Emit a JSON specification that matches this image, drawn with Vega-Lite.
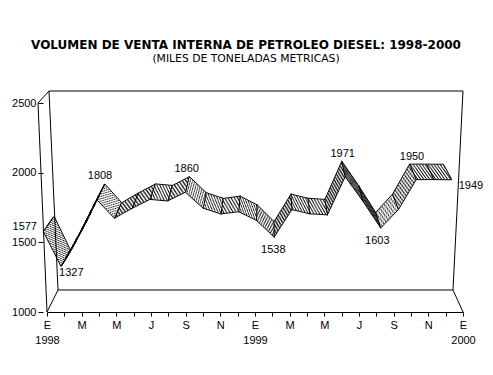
{
"$schema":"https://vega.github.io/schema/vega-lite/v6.json",
"width":416,"height":209,
"autosize":"none",
"padding":{"left":47,"top":103,"right":30,"bottom":63},
"background":"white",
"config":{"view":{"stroke":null},"numberFormat":"d","axis":{"grid":false},
 "axisY":{"tickCount":3,"domain":false,"ticks":true,"tickColor":"black","tickSize":5,"offset":4,"labelFont":"Liberation Sans","labelFontSize":11,"labelColor":"black","labelPadding":2}},
"title":{"text":"VOLUMEN DE VENTA INTERNA DE PETROLEO DIESEL: 1998-2000","subtitle":"(MILES DE TONELADAS METRICAS)","anchor":"middle","frame":"group","dx":-9,"offset":26,"font":"DejaVu Sans","fontSize":12,"fontWeight":"bold","color":"black","subtitleFont":"DejaVu Sans","subtitleFontSize":10.8,"subtitleColor":"black","subtitlePadding":1},
"data":{"values":[
{"m":0,"v":1577},{"m":1,"v":1327},{"m":2,"v":1555},{"m":3,"v":1808},{"m":4,"v":1673},{"m":5,"v":1744},
{"m":6,"v":1808},{"m":7,"v":1797},{"m":8,"v":1860},{"m":9,"v":1745},{"m":10,"v":1704},{"m":11,"v":1720},
{"m":12,"v":1658},{"m":13,"v":1538},{"m":14,"v":1735},{"m":15,"v":1705},{"m":16,"v":1697},{"m":17,"v":1971},
{"m":18,"v":1795},{"m":19,"v":1603},{"m":20,"v":1735},{"m":21,"v":1950},{"m":22,"v":1950},{"m":23,"v":1949}
]},
"resolve":{"scale":{"x":"independent"}},
"layer":[
{"data":{"values":[{"k":1}]},"mark":{"type":"rule","stroke":"black","strokeWidth":1},"encoding":{"x":{"datum":-0.519,"type":"quantitative","scale":{"domain":[0,24],"nice":false,"zero":false},"axis":null},"y":{"datum":2500,"type":"quantitative","title":null,"scale":{"domain":[1000,2500],"nice":false,"zero":false}},"x2":{"datum":0},"y2":{"datum":1000}}},
{"data":{"values":[{"k":1}]},"mark":{"type":"rule","stroke":"black","strokeWidth":1},"encoding":{"x":{"datum":-0.519,"type":"quantitative","scale":{"domain":[0,24],"nice":false,"zero":false},"axis":null},"y":{"datum":2500,"type":"quantitative","title":null},"x2":{"datum":0.115},"y2":{"datum":2586}}},
{"data":{"values":[{"k":1}]},"mark":{"type":"rule","stroke":"black","strokeWidth":1},"encoding":{"x":{"datum":0.115,"type":"quantitative","scale":{"domain":[0,24],"nice":false,"zero":false},"axis":null},"y":{"datum":2586,"type":"quantitative","title":null},"x2":{"datum":0.635},"y2":{"datum":1158}}},
{"data":{"values":[{"k":1}]},"mark":{"type":"rule","stroke":"black","strokeWidth":1},"encoding":{"x":{"datum":0.115,"type":"quantitative","scale":{"domain":[0,24],"nice":false,"zero":false},"axis":null},"y":{"datum":2586,"type":"quantitative","title":null},"x2":{"datum":24},"y2":{"datum":2586}}},
{"data":{"values":[{"k":1}]},"mark":{"type":"rule","stroke":"black","strokeWidth":1},"encoding":{"x":{"datum":24,"type":"quantitative","scale":{"domain":[0,24],"nice":false,"zero":false},"axis":null},"y":{"datum":2586,"type":"quantitative","title":null},"x2":{"datum":23.423},"y2":{"datum":1158}}},
{"data":{"values":[{"k":1}]},"mark":{"type":"rule","stroke":"black","strokeWidth":1},"encoding":{"x":{"datum":0.635,"type":"quantitative","scale":{"domain":[0,24],"nice":false,"zero":false},"axis":null},"y":{"datum":1158,"type":"quantitative","title":null},"x2":{"datum":23.423},"y2":{"datum":1158}}},
{"data":{"values":[{"k":1}]},"mark":{"type":"rule","stroke":"black","strokeWidth":1},"encoding":{"x":{"datum":0,"type":"quantitative","scale":{"domain":[0,24],"nice":false,"zero":false},"axis":null},"y":{"datum":1000,"type":"quantitative","title":null},"x2":{"datum":0.635},"y2":{"datum":1158}}},
{"data":{"values":[{"k":1}]},"mark":{"type":"rule","stroke":"black","strokeWidth":1},"encoding":{"x":{"datum":24,"type":"quantitative","scale":{"domain":[0,24],"nice":false,"zero":false},"axis":null},"y":{"datum":1000,"type":"quantitative","title":null},"x2":{"datum":23.423},"y2":{"datum":1158}}},

{"mark":{"type":"line","stroke":"black","strokeWidth":1,"strokeDash":[1.2,1.8],"strokeDashOffset":1.125,"yOffset":-1.033},"encoding":{"x":{"field":"m","type":"quantitative","scale":{"domain":[0.1687,23.6678],"nice":false,"zero":false},"axis":null},"y":{"field":"v","type":"quantitative","title":null}}},
{"mark":{"type":"line","stroke":"black","strokeWidth":1,"strokeDash":[1.2,1.8],"strokeDashOffset":2.25,"yOffset":-2.067},"encoding":{"x":{"field":"m","type":"quantitative","scale":{"domain":[0.1288,23.7015],"nice":false,"zero":false},"axis":null},"y":{"field":"v","type":"quantitative","title":null}}},
{"mark":{"type":"line","stroke":"black","strokeWidth":1,"strokeDash":[1.2,1.8],"strokeDashOffset":0.375,"yOffset":-3.1},"encoding":{"x":{"field":"m","type":"quantitative","scale":{"domain":[0.0887,23.7353],"nice":false,"zero":false},"axis":null},"y":{"field":"v","type":"quantitative","title":null}}},
{"mark":{"type":"line","stroke":"black","strokeWidth":1,"strokeDash":[1.2,1.8],"strokeDashOffset":1.5,"yOffset":-4.133},"encoding":{"x":{"field":"m","type":"quantitative","scale":{"domain":[0.0483,23.7694],"nice":false,"zero":false},"axis":null},"y":{"field":"v","type":"quantitative","title":null}}},
{"mark":{"type":"line","stroke":"black","strokeWidth":1,"strokeDash":[1.2,1.8],"strokeDashOffset":2.625,"yOffset":-5.167},"encoding":{"x":{"field":"m","type":"quantitative","scale":{"domain":[0.0076,23.8035],"nice":false,"zero":false},"axis":null},"y":{"field":"v","type":"quantitative","title":null}}},
{"mark":{"type":"line","stroke":"black","strokeWidth":1,"strokeDash":[1.2,1.8],"strokeDashOffset":0.75,"yOffset":-6.2},"encoding":{"x":{"field":"m","type":"quantitative","scale":{"domain":[-0.0333,23.838],"nice":false,"zero":false},"axis":null},"y":{"field":"v","type":"quantitative","title":null}}},
{"mark":{"type":"line","stroke":"black","strokeWidth":1,"strokeDash":[1.2,1.8],"strokeDashOffset":1.875,"yOffset":-7.233},"encoding":{"x":{"field":"m","type":"quantitative","scale":{"domain":[-0.0744,23.8728],"nice":false,"zero":false},"axis":null},"y":{"field":"v","type":"quantitative","title":null}}},
{"mark":{"type":"line","stroke":"black","strokeWidth":1,"strokeDash":[1.2,1.8],"strokeDashOffset":0,"yOffset":-8.267},"encoding":{"x":{"field":"m","type":"quantitative","scale":{"domain":[-0.1159,23.9076],"nice":false,"zero":false},"axis":null},"y":{"field":"v","type":"quantitative","title":null}}},
{"mark":{"type":"line","stroke":"black","strokeWidth":1,"strokeDash":[1.2,1.8],"strokeDashOffset":1.125,"yOffset":-9.3},"encoding":{"x":{"field":"m","type":"quantitative","scale":{"domain":[-0.1576,23.9427],"nice":false,"zero":false},"axis":null},"y":{"field":"v","type":"quantitative","title":null}}},
{"mark":{"type":"line","stroke":"black","strokeWidth":1,"strokeDash":[1.2,1.8],"strokeDashOffset":2.25,"yOffset":-10.333},"encoding":{"x":{"field":"m","type":"quantitative","scale":{"domain":[-0.1995,23.9781],"nice":false,"zero":false},"axis":null},"y":{"field":"v","type":"quantitative","title":null}}},
{"mark":{"type":"line","stroke":"black","strokeWidth":1,"strokeDash":[1.2,1.8],"strokeDashOffset":0.375,"yOffset":-11.367},"encoding":{"x":{"field":"m","type":"quantitative","scale":{"domain":[-0.2418,24.0136],"nice":false,"zero":false},"axis":null},"y":{"field":"v","type":"quantitative","title":null}}},
{"mark":{"type":"line","stroke":"black","strokeWidth":1,"strokeDash":[1.2,1.8],"strokeDashOffset":1.5,"yOffset":-12.4},"encoding":{"x":{"field":"m","type":"quantitative","scale":{"domain":[-0.2843,24.0494],"nice":false,"zero":false},"axis":null},"y":{"field":"v","type":"quantitative","title":null}}},
{"mark":{"type":"line","stroke":"black","strokeWidth":1,"strokeDash":[1.2,1.8],"strokeDashOffset":2.625,"yOffset":-13.433},"encoding":{"x":{"field":"m","type":"quantitative","scale":{"domain":[-0.327,24.0856],"nice":false,"zero":false},"axis":null},"y":{"field":"v","type":"quantitative","title":null}}},
{"mark":{"type":"line","stroke":"black","strokeWidth":1,"strokeDash":[1.2,1.8],"strokeDashOffset":0.75,"yOffset":-14.467},"encoding":{"x":{"field":"m","type":"quantitative","scale":{"domain":[-0.3701,24.1218],"nice":false,"zero":false},"axis":null},"y":{"field":"v","type":"quantitative","title":null}}},

{"mark":{"type":"line","stroke":"black","strokeWidth":1},"encoding":{"x":{"field":"m","type":"quantitative","scale":{"domain":[0.2084,23.635],"nice":false,"zero":false},"axis":null},"y":{"field":"v","type":"quantitative","title":null}}},
{"mark":{"type":"line","stroke":"black","strokeWidth":1,"yOffset":-15.5},"encoding":{"x":{"field":"m","type":"quantitative","scale":{"domain":[-0.4135,24.158],"nice":false,"zero":false},"axis":null},"y":{"field":"v","type":"quantitative","title":null}}},
{"mark":{"type":"point","shape":"M0,-1L0,1","filled":false,"stroke":"black","strokeWidth":1,"size":290,"opacity":1,"yOffset":-7.75},"encoding":{"x":{"field":"m","type":"quantitative","scale":{"domain":[-0.0951,23.89],"nice":false,"zero":false},"axis":null},"y":{"field":"v","type":"quantitative","title":null},"angle":{"field":"m","type":"quantitative","scale":{"domain":[0,23],"range":[34.6,-28.5],"nice":false,"zero":false},"legend":null}}},

{"transform":[{"filter":{"field":"m","oneOf":[3,8,17,21]}}],"mark":{"type":"text","font":"Liberation Sans","fontSize":11,"fill":"#000000","dx":1,"dy":-23},"encoding":{"x":{"field":"m","type":"quantitative","title":null,"scale":{"domain":[0,24],"nice":false,"zero":false},
 "axis":{"values":[0,1,2,3,4,5,6,7,8,9,10,11,12,13,14,15,16,17,18,19,20,21,22,23,24],"title":null,"grid":false,"domain":true,"domainColor":"black","domainWidth":1,"ticks":true,"tickColor":"black","tickSize":4,"labelExpr":"datum.value % 2 != 0 ? '' : (datum.value % 12 == 0 ? ['E', '' + (1998 + datum.value / 12)] : ['E','','M','','M','','J','','S','','N'][datum.value % 12])","labelFont":"Liberation Sans","labelFontSize":11,"labelColor":"black","labelLineHeight":15,"labelPadding":3,"labelOverlap":false,"labelFlush":false,"labelBound":false}},
 "y":{"field":"v","type":"quantitative","title":null},
 "text":{"field":"v","type":"quantitative"}}},
{"transform":[{"filter":{"field":"m","oneOf":[13,19]}}],"mark":{"type":"text","font":"Liberation Sans","fontSize":11,"fill":"#000000","dx":1,"dy":13},"encoding":{"x":{"field":"m","type":"quantitative","scale":{"domain":[0,24],"nice":false,"zero":false},"axis":null},"y":{"field":"v","type":"quantitative","title":null},"text":{"field":"v","type":"quantitative"}}},
{"transform":[{"filter":{"field":"m","equal":1}}],"mark":{"type":"text","font":"Liberation Sans","fontSize":11,"fill":"#000000","dx":7,"dy":7},"encoding":{"x":{"field":"m","type":"quantitative","scale":{"domain":[0,24],"nice":false,"zero":false},"axis":null},"y":{"field":"v","type":"quantitative","title":null},"text":{"field":"v","type":"quantitative"}}},
{"transform":[{"filter":{"field":"m","equal":0}}],"mark":{"type":"text","font":"Liberation Sans","fontSize":11,"fill":"#000000","align":"right","dx":-10,"dy":-5},"encoding":{"x":{"field":"m","type":"quantitative","scale":{"domain":[0,24],"nice":false,"zero":false},"axis":null},"y":{"field":"v","type":"quantitative","title":null},"text":{"field":"v","type":"quantitative"}}},
{"transform":[{"filter":{"field":"m","equal":23}}],"mark":{"type":"text","font":"Liberation Sans","fontSize":11,"fill":"#000000","align":"left","dx":13,"dy":6},"encoding":{"x":{"field":"m","type":"quantitative","scale":{"domain":[0,24],"nice":false,"zero":false},"axis":null},"y":{"field":"v","type":"quantitative","title":null},"text":{"field":"v","type":"quantitative"}}}
]
}
